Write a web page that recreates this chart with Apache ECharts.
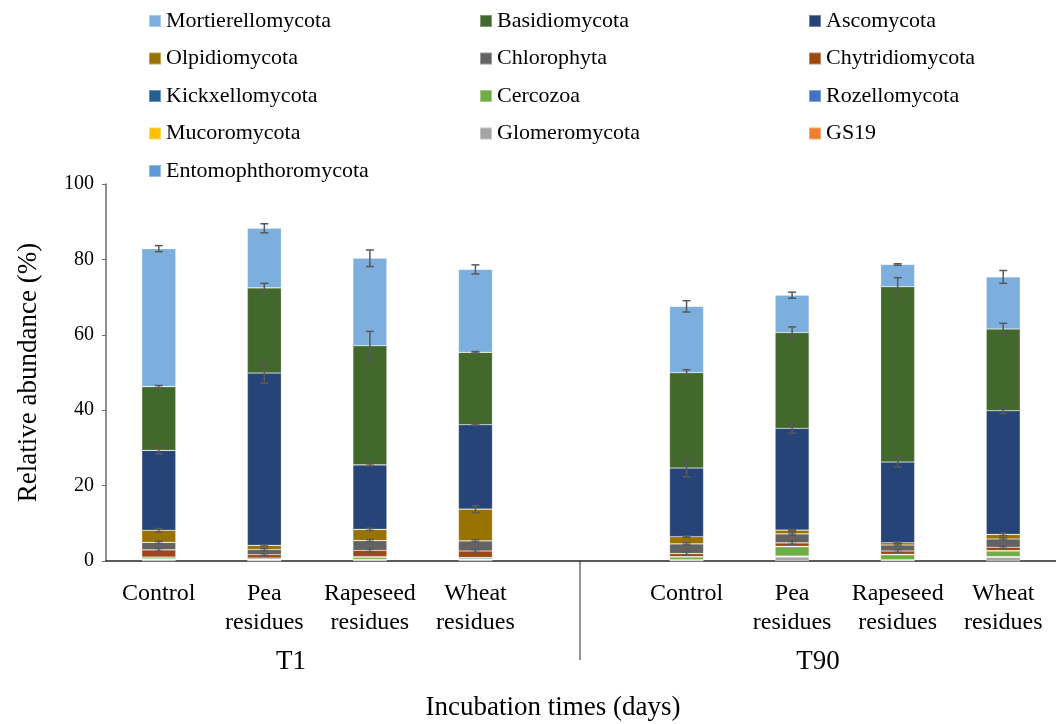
<!DOCTYPE html>
<html>
<head>
<meta charset="utf-8">
<script src="https://cdn.jsdelivr.net/npm/echarts@6/dist/echarts.min.js"></script>
<style>html,body{margin:0;padding:0;background:#fff}#chart{width:1056px;height:724px}</style>
</head>
<body>
<div id="chart"></div>
<script>
// ---- data ----
const timeGroups = ['T1', 'T90'];
const treatments = ['Control', 'Pea\nresidues', 'Rapeseed\nresidues', 'Wheat\nresidues'];
const yTicks = [0, 20, 40, 60, 80, 100];

// values per bar: [T1 Control, T1 Pea, T1 Rapeseed, T1 Wheat, T90 Control, T90 Pea, T90 Rapeseed, T90 Wheat]
// stack order bottom -> top
const Entomophthoromycota = [0.1, 0.05, 0.1, 0.1, 0.05, 0.1, 0.05, 0.05];
const GS19               = [0.1, 0.05, 0.05, 0.1, 0.05, 0.05, 0.05, 0.05];
const Glomeromycota      = [0.1, 0.1, 0.1, 0.1, 0.1, 0.9, 0.1, 0.9];
const Mucoromycota       = [0.05, 0.05, 0.05, 0.05, 0.05, 0.05, 0.05, 0.05];
const Rozellomycota      = [0.1, 0.1, 0.1, 0.1, 0.1, 0.2, 0.1, 0.1];
const Cercozoa           = [0.3, 0.1, 0.5, 0.2, 0.7, 2.5, 1.3, 1.5];
const Kickxellomycota    = [0.3, 0.3, 0.3, 0.3, 0.1, 0.1, 0.1, 0.1];
const Chytridiomycota    = [1.9, 0.9, 1.6, 1.7, 0.8, 0.9, 0.9, 0.9];
const Chlorophyta        = [2.0, 1.4, 2.6, 2.7, 2.6, 2.4, 1.6, 2.2];
const Olpidiomycota      = [3.2, 1.1, 3.0, 8.4, 1.9, 1.0, 0.6, 1.2];
const Ascomycota         = [21.2, 45.7, 17.1, 22.4, 18.2, 27.0, 21.4, 32.8];
const Basidiomycota      = [16.9, 22.6, 31.6, 19.2, 25.3, 25.4, 46.5, 21.7];
const Mortierellomycota  = [36.6, 15.8, 23.2, 22.0, 17.6, 9.9, 5.9, 13.8];

// error bars (±)
const errChytridiomycota   = [0.4, 0.3, 0.4, 0.4, 0.4, 0.4, 0.4, 0.3];
const errChlorophyta       = [0.3, 0.3, 0.3, 0.3, 0.3, 0.3, 0.3, 0.3];
const errOlpidiomycota     = [0.5, 0.2, 0.3, 0.9, 0.2, 0.2, 0.2, 0.3];
const errAscomycota        = [0.9, 2.7, 0.3, 0.2, 2.3, 1.3, 1.3, 0.75];
const errBasidiomycota     = [0.3, 1.2, 3.8, 0.2, 0.8, 1.5, 2.4, 1.5];
const errMortierellomycota = [0.8, 1.2, 2.2, 1.2, 1.5, 0.8, 0.2, 1.7];

const seriesDefs = [
  ['Entomophthoromycota', Entomophthoromycota, '#5B9BD5', null],
  ['GS19', GS19, '#ED7D31', null],
  ['Glomeromycota', Glomeromycota, '#A5A5A5', null],
  ['Mucoromycota', Mucoromycota, '#FFC000', null],
  ['Rozellomycota', Rozellomycota, '#4472C4', null],
  ['Cercozoa', Cercozoa, '#70AD47', null],
  ['Kickxellomycota', Kickxellomycota, '#255E91', null],
  ['Chytridiomycota', Chytridiomycota, '#9E480E', errChytridiomycota],
  ['Chlorophyta', Chlorophyta, '#636363', errChlorophyta],
  ['Olpidiomycota', Olpidiomycota, '#997300', errOlpidiomycota],
  ['Ascomycota', Ascomycota, '#264478', errAscomycota],
  ['Basidiomycota', Basidiomycota, '#43682B', errBasidiomycota],
  ['Mortierellomycota', Mortierellomycota, '#7CAFDD', errMortierellomycota]
];

const legendCols = [
  ['Mortierellomycota', 'Olpidiomycota', 'Kickxellomycota', 'Mucoromycota', 'Entomophthoromycota'],
  ['Basidiomycota', 'Chlorophyta', 'Cercozoa', 'Glomeromycota'],
  ['Ascomycota', 'Chytridiomycota', 'Rozellomycota', 'GS19']
];

// ---- build ----
const FONT = 'Liberation Serif';
const categories = [...treatments, '', ...treatments];
const barIndex = [0, 1, 2, 3, 5, 6, 7, 8];
function withGap(arr) { return [...arr.slice(0, 4), '-', ...arr.slice(4)]; }

const series = [];
const cum = new Array(8).fill(0);
const errData = [];
seriesDefs.forEach(([name, vals, color, err]) => {
  series.push({
    name, type: 'bar', stack: 'total', barWidth: 34,
    data: withGap(vals),
    itemStyle: { color, borderColor: 'rgba(255,255,255,0.35)', borderWidth: 0.6 },
    emphasis: { disabled: true }
  });
  for (let i = 0; i < 8; i++) {
    cum[i] += vals[i];
    if (err) errData.push([barIndex[i], cum[i], err[i]]);
  }
});

series.push({
  type: 'custom', name: 'err', z: 10, silent: true,
  data: errData,
  encode: { x: 0, y: 1 },
  renderItem: function (params, api) {
    const x = api.value(0), y = api.value(1), e = api.value(2);
    const a = api.coord([x, y + e]);
    const b = api.coord([x, y - e]);
    const w = 4;
    const st = { stroke: '#595959', lineWidth: 1.5 };
    return {
      type: 'group',
      children: [
        { type: 'line', shape: { x1: a[0], y1: a[1], x2: b[0], y2: b[1] }, style: st },
        { type: 'line', shape: { x1: a[0] - w, y1: a[1], x2: a[0] + w, y2: a[1] }, style: st },
        { type: 'line', shape: { x1: b[0] - w, y1: b[1], x2: b[0] + w, y2: b[1] }, style: st }
      ]
    };
  }
});

const legendLefts = [143, 474, 803];
const legends = legendCols.map((cols, i) => ({
  orient: 'vertical', left: legendLefts[i], top: 5,
  itemWidth: 12, itemHeight: 12, itemGap: 15.5, icon: 'rect',
  selectedMode: false,
  data: cols,
  textStyle: { fontFamily: FONT, fontSize: 22, color: '#000', lineHeight: 22 }
}));

const chart = echarts.init(document.getElementById('chart'), null, { renderer: 'canvas' });
chart.setOption({
  animation: false,
  backgroundColor: '#fff',
  legend: legends,
  grid: { left: 106, right: -6, top: 184, bottom: 163, containLabel: false },
  xAxis: {
    type: 'category', data: categories,
    axisLine: { show: true, lineStyle: { color: '#262626', width: 1.5 } },
    axisTick: { show: false },
    axisLabel: { fontFamily: FONT, fontSize: 24, color: '#000', lineHeight: 29, margin: 18, interval: 0 }
  },
  yAxis: {
    type: 'value', min: yTicks[0], max: yTicks[yTicks.length - 1], interval: yTicks[1] - yTicks[0],
    splitLine: { show: false },
    axisLine: { show: true, lineStyle: { color: '#6b6b6b', width: 1.5 } },
    axisTick: { show: true, length: 4, lineStyle: { color: '#6b6b6b' } },
    axisLabel: { fontFamily: FONT, fontSize: 20, color: '#000', margin: 12 },
    name: 'Relative abundance (%)', nameLocation: 'middle', nameGap: 64,
    nameTextStyle: { fontFamily: FONT, fontSize: 27, color: '#000' }
  },
  graphic: [
    { type: 'line', shape: { x1: 580, y1: 561, x2: 580, y2: 660 }, style: { stroke: '#262626', lineWidth: 1 } },
    { type: 'text', x: 291, y: 662, style: { text: timeGroups[0], font: '27px "' + FONT + '"', fill: '#000', align: 'center', verticalAlign: 'middle' } },
    { type: 'text', x: 818, y: 662, style: { text: timeGroups[1], font: '27px "' + FONT + '"', fill: '#000', align: 'center', verticalAlign: 'middle' } },
    { type: 'text', x: 553, y: 708, style: { text: 'Incubation times (days)', font: '27px "' + FONT + '"', fill: '#000', align: 'center', verticalAlign: 'middle' } }
  ],
  series
});
</script>
</body>
</html>
